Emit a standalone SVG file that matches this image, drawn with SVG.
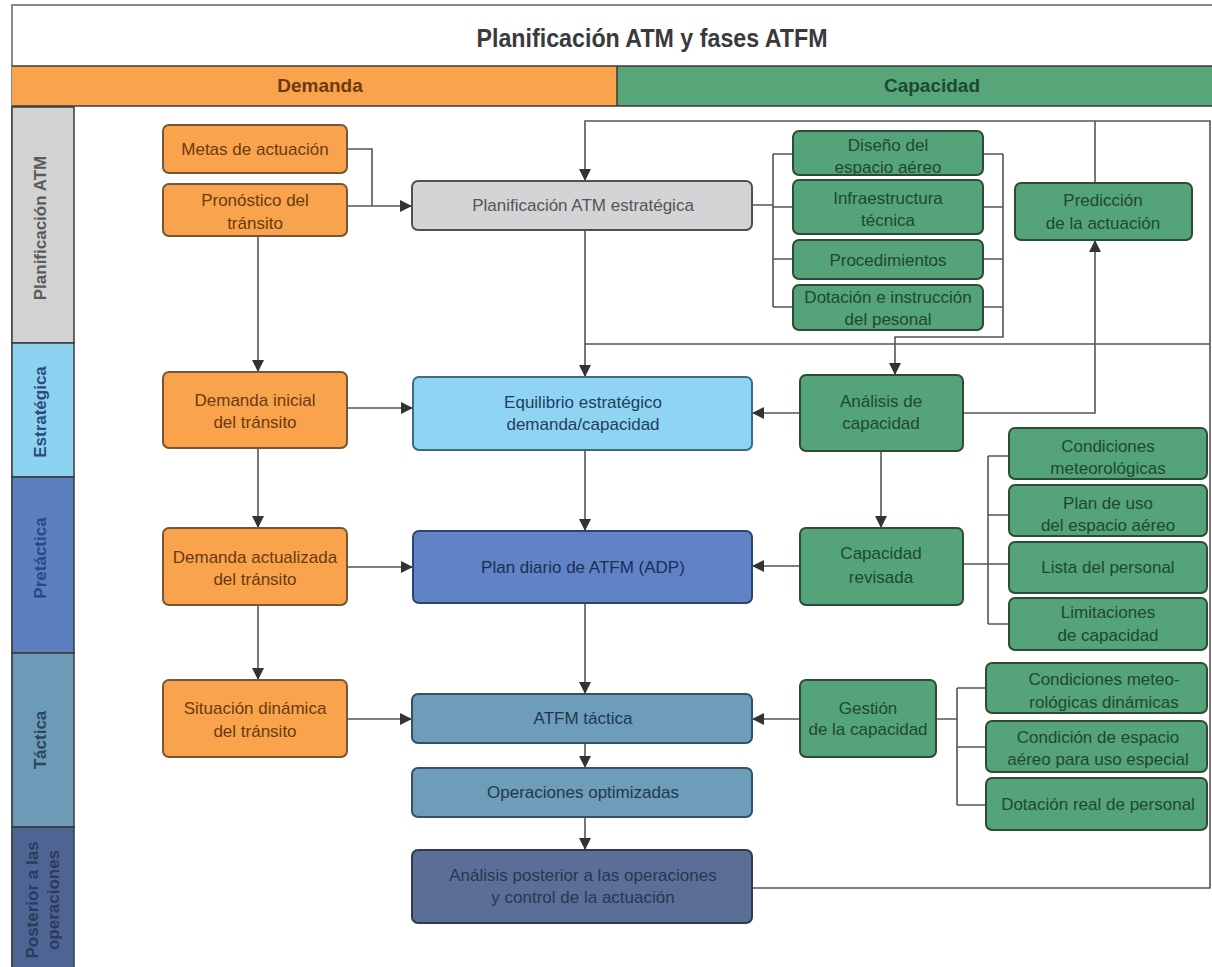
<svg xmlns="http://www.w3.org/2000/svg" width="1212" height="967" viewBox="0 0 1212 967">
<style>
.t{font-family:"Liberation Sans",Arial,sans-serif;font-size:17px;text-anchor:middle}
.side{font-family:"Liberation Sans",Arial,sans-serif;font-size:17px;font-weight:bold;text-anchor:middle}
.hd{font-family:"Liberation Sans",Arial,sans-serif;font-size:19px;font-weight:bold;text-anchor:middle}
.ln{fill:none;stroke:#555;stroke-width:1.6}
.arr{marker-end:url(#ah)}
.or rect{fill:#f9a44c;stroke:#7b5533;stroke-width:2}
.or text{fill:#6a3a12}
.gr rect{fill:#55a378;stroke:#2e4a38;stroke-width:2}
.gr text{fill:#1d4a2c}
.gy rect{fill:#d3d4d6;stroke:#505050;stroke-width:2}
.gy text{fill:#555}
.lb rect{fill:#8fd5f3;stroke:#3d6b85;stroke-width:2}
.lb text{fill:#1f3d5f}
.bl rect{fill:#5f83c5;stroke:#2e4470;stroke-width:2}
.bl text{fill:#1d2d55}
.st rect{fill:#6d9db9;stroke:#34506a;stroke-width:2}
.st text{fill:#1f3850}
.dk rect{fill:#5b6f96;stroke:#2f3b55;stroke-width:2}
.dk text{fill:#2a3550}
</style>
<defs>
<marker id="ah" viewBox="0 0 12 12" refX="12" refY="6" markerWidth="12" markerHeight="12" markerUnits="userSpaceOnUse" orient="auto">
<path d="M0,0 L12,6 L0,12 z" fill="#333"/>
</marker>
</defs>
<rect x="0" y="0" width="1212" height="967" fill="#fff"/>
<path d="M12,967 V5 H1212" fill="none" stroke="#8a8a8a" stroke-width="2"/>

<g id="title">
<text x="652" y="47" font-family="Liberation Sans, Arial, sans-serif" font-size="25" font-weight="bold" fill="#3a3a3a" text-anchor="middle" textLength="351" lengthAdjust="spacingAndGlyphs">Planificación ATM y fases ATFM</text>
</g>

<g id="header">
<rect x="12" y="66" width="605" height="40" fill="#f9a44c"/>
<rect x="617" y="66" width="595" height="40" fill="#58a57a"/>
<path d="M12,66 H1212 M12,106 H1212 M617,66 V106" stroke="#3a3a3a" stroke-width="1.5" fill="none"/>
<text class="hd" x="320" y="92" fill="#6a3a12">Demanda</text>
<text class="hd" x="932" y="92" fill="#1d4a2c">Capacidad</text>
</g>

<g id="sidebar">
<rect x="12" y="107" width="62" height="236" fill="#d1d2d4" stroke="#3a3a3a" stroke-width="1.5"/>
<rect x="12" y="343" width="62" height="134" fill="#8dd3f1" stroke="#3a3a3a" stroke-width="1.5"/>
<rect x="12" y="477" width="62" height="176" fill="#5c7fc0" stroke="#3a3a3a" stroke-width="1.5"/>
<rect x="12" y="653" width="62" height="174" fill="#6b9bb6" stroke="#3a3a3a" stroke-width="1.5"/>
<rect x="12" y="827" width="62" height="142" fill="#4e6593" stroke="#3a3a3a" stroke-width="1.5"/>
<text class="side" transform="translate(46,228) rotate(-90)" fill="#5a5a5a">Planificación ATM</text>
<text class="side" transform="translate(46,412) rotate(-90)" fill="#2a4d7a">Estratégica</text>
<text class="side" transform="translate(46,558) rotate(-90)" fill="#2a478a">Pretáctica</text>
<text class="side" transform="translate(46,740) rotate(-90)" fill="#2b4660">Táctica</text>
<text class="side" transform="translate(38,900) rotate(-90)" fill="#2c3a5e">Posterior a las</text>
<text class="side" transform="translate(59,900) rotate(-90)" fill="#2c3a5e">operaciones</text>
</g>

<g id="connectors">
<path class="ln" d="M347,149 H372 V206"/>
<path class="ln arr" d="M347,206 H412"/>
<path class="ln arr" d="M752,888 H1210 V121 H585 V181"/>
<path class="ln arr" d="M585,230 V377"/>
<path class="ln" d="M585,344 H1210"/>
<path class="ln" d="M752,205 H773 M773,154 V307 M773,154 H793 M773,207 H793 M773,259 H793 M773,307 H793"/>
<path class="ln" d="M983,154 H1003 M983,207 H1003 M983,259 H1003 M983,307 H1003"/>
<path class="ln arr" d="M1003,154 V337 H895 V375"/>
<path class="ln" d="M1095,121 V183"/>
<path class="ln arr" d="M963,413 H1095 V240"/>
<path class="ln arr" d="M800,413 H752"/>
<path class="ln arr" d="M881,451 V528"/>
<path class="ln arr" d="M800,566 H752"/>
<path class="ln" d="M963,564 H1009 M988,456 V624 M988,456 H1009 M988,515 H1009 M988,624 H1009"/>
<path class="ln arr" d="M800,719 H752"/>
<path class="ln" d="M936,719 H957 M957,688 V805 M957,688 H986 M957,747 H986 M957,805 H986"/>
<path class="ln arr" d="M258,236 V372"/>
<path class="ln arr" d="M347,408 H413"/>
<path class="ln arr" d="M258,448 V528"/>
<path class="ln arr" d="M347,567 H413"/>
<path class="ln arr" d="M258,605 V680"/>
<path class="ln arr" d="M347,719 H412"/>
<path class="ln arr" d="M585,450 V531"/>
<path class="ln arr" d="M585,603 V694"/>
<path class="ln arr" d="M585,743 V768"/>
<path class="ln arr" d="M585,817 V850"/>
</g>

<g id="metas" class="or"><rect x="163" y="125" width="184" height="48" rx="6"/><text class="t" x="255" y="155">Metas de actuación</text></g>
<g id="pronostico" class="or"><rect x="163" y="184" width="184" height="52" rx="6"/><text class="t" x="255" y="206">Pronóstico del</text><text class="t" x="255" y="229">tránsito</text></g>
<g id="planif-estrategica" class="gy"><rect x="412" y="181" width="340" height="49" rx="6"/><text class="t" x="583" y="211">Planificación ATM estratégica</text></g>
<g id="diseno" class="gr"><rect x="793" y="131" width="190" height="44" rx="6"/><text class="t" x="888" y="151">Diseño del</text><text class="t" x="888" y="173">espacio aéreo</text></g>
<g id="infraestructura" class="gr"><rect x="793" y="180" width="190" height="54" rx="6"/><text class="t" x="888" y="204">Infraestructura</text><text class="t" x="888" y="226">técnica</text></g>
<g id="procedimientos" class="gr"><rect x="793" y="240" width="190" height="39" rx="6"/><text class="t" x="888" y="266">Procedimientos</text></g>
<g id="dotacion" class="gr"><rect x="793" y="285" width="190" height="45" rx="6"/><text class="t" x="888" y="303">Dotación e instrucción</text><text class="t" x="888" y="325">del pesonal</text></g>
<g id="prediccion" class="gr"><rect x="1015" y="183" width="177" height="57" rx="6"/><text class="t" x="1103" y="206">Predicción</text><text class="t" x="1103" y="229">de la actuación</text></g>

<g id="demanda-inicial" class="or"><rect x="163" y="372" width="184" height="76" rx="6"/><text class="t" x="255" y="406">Demanda inicial</text><text class="t" x="255" y="428">del tránsito</text></g>
<g id="equilibrio" class="lb"><rect x="413" y="377" width="339" height="73" rx="6"/><text class="t" x="583" y="408">Equilibrio estratégico</text><text class="t" x="583" y="430">demanda/capacidad</text></g>
<g id="analisis-capacidad" class="gr"><rect x="800" y="375" width="163" height="76" rx="6"/><text class="t" x="881" y="407">Análisis de</text><text class="t" x="881" y="429">capacidad</text></g>

<g id="demanda-actualizada" class="or"><rect x="163" y="528" width="184" height="77" rx="6"/><text class="t" x="255" y="563">Demanda actualizada</text><text class="t" x="255" y="585">del tránsito</text></g>
<g id="plan-diario" class="bl"><rect x="413" y="531" width="339" height="72" rx="6"/><text class="t" x="583" y="573">Plan diario de ATFM (ADP)</text></g>
<g id="capacidad-revisada" class="gr"><rect x="800" y="528" width="163" height="77" rx="6"/><text class="t" x="881" y="559">Capacidad</text><text class="t" x="881" y="583">revisada</text></g>
<g id="condiciones-met" class="gr"><rect x="1009" y="428" width="198" height="51" rx="6"/><text class="t" x="1108" y="452">Condiciones</text><text class="t" x="1108" y="474">meteorológicas</text></g>
<g id="plan-uso" class="gr"><rect x="1009" y="485" width="198" height="51" rx="6"/><text class="t" x="1108" y="509">Plan de uso</text><text class="t" x="1108" y="531">del espacio aéreo</text></g>
<g id="lista-personal" class="gr"><rect x="1009" y="542" width="198" height="51" rx="6"/><text class="t" x="1108" y="573">Lista del personal</text></g>
<g id="limitaciones" class="gr"><rect x="1009" y="598" width="198" height="52" rx="6"/><text class="t" x="1108" y="618">Limitaciones</text><text class="t" x="1108" y="641">de capacidad</text></g>

<g id="situacion" class="or"><rect x="163" y="680" width="184" height="77" rx="6"/><text class="t" x="255" y="714">Situación dinámica</text><text class="t" x="255" y="737">del tránsito</text></g>
<g id="atfm-tactica" class="st"><rect x="412" y="694" width="340" height="49" rx="6"/><text class="t" x="583" y="724">ATFM táctica</text></g>
<g id="operaciones" class="st"><rect x="412" y="768" width="340" height="49" rx="6"/><text class="t" x="583" y="798">Operaciones optimizadas</text></g>
<g id="analisis-posterior" class="dk"><rect x="412" y="850" width="340" height="73" rx="6"/><text class="t" x="583" y="881">Análisis posterior a las operaciones</text><text class="t" x="583" y="903">y control de la actuación</text></g>
<g id="gestion" class="gr"><rect x="800" y="680" width="136" height="77" rx="6"/><text class="t" x="868" y="714">Gestión</text><text class="t" x="868" y="735">de la capacidad</text></g>
<g id="cond-dinamicas" class="gr"><rect x="986" y="663" width="221" height="50" rx="6"/><text class="t" x="1104" y="685">Condiciones meteo-</text><text class="t" x="1104" y="708">rológicas dinámicas</text></g>
<g id="cond-espacio" class="gr"><rect x="986" y="721" width="221" height="51" rx="6"/><text class="t" x="1098" y="743">Condición de espacio</text><text class="t" x="1098" y="765">aéreo para uso especial</text></g>
<g id="dotacion-real" class="gr"><rect x="986" y="778" width="221" height="52" rx="6"/><text class="t" x="1098" y="810">Dotación real de personal</text></g>
</svg>
